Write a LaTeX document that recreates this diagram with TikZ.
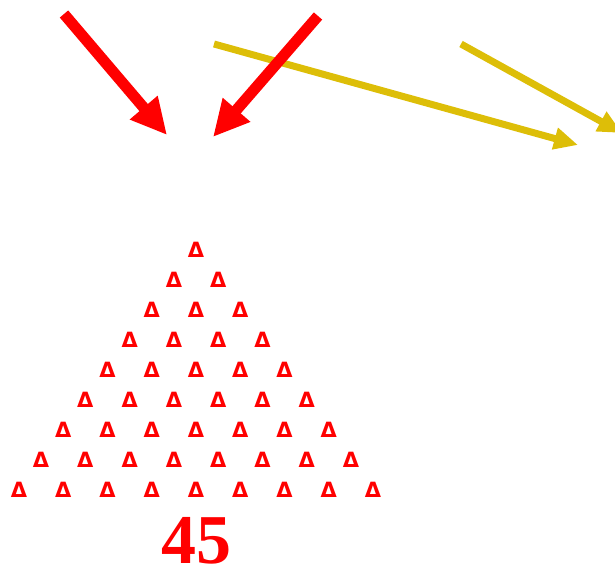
\documentclass[tikz,border=0pt]{standalone}
\usepackage{fontspec}
\setmainfont{Liberation Serif}
\newfontfamily\trifont{DejaVu Sans}
\usetikzlibrary{arrows.meta}
\definecolor{goldA}{RGB}{221,190,8}
\begin{document}
\begin{tikzpicture}[x=1pt,y=-1pt,
  redarrow/.style={draw=red,line width=11pt,-{Triangle[length=36pt,width=34pt]}},
  goldarrow/.style={draw=goldA,line width=7pt,-{Triangle[length=24pt,width=21pt]}},
  tri/.style={text=red,font=\trifont\bfseries\fontsize{21}{21}\selectfont,inner sep=0pt},
  bignum/.style={text=red,font=\fontsize{70}{70}\selectfont\bfseries,inner sep=0pt}]
\useasboundingbox (0,0) rectangle (615,572);
\coordinate (r1s) at (64,14);
\coordinate (r1e) at (167,135);
\coordinate (r2s) at (318,16);
\coordinate (r2e) at (213,137);
\coordinate (g1s) at (214,44);
\coordinate (g1e) at (578,145);
\coordinate (g2s) at (461,44);
\coordinate (g2e) at (622,133);
\begin{scope}
\clip (0,0) rectangle (615,572);
\draw[goldarrow] (g1s) -- (g1e);
\draw[goldarrow] (g2s) -- (g2e);
\end{scope}
\draw[redarrow] (r1s) -- (r1e);
\draw[redarrow] (r2s) -- (r2e);
\foreach \r in {1,...,9}{
  \foreach \j in {1,...,\r}{
    \node[tri] (t\r-\j) at ({196+(\j-(\r+1)/2)*44.25},{250+(\r-1)*30}) {Δ};
  }
}
\node[bignum] (n45) at (196,541) {45};
\end{tikzpicture}
\end{document}
